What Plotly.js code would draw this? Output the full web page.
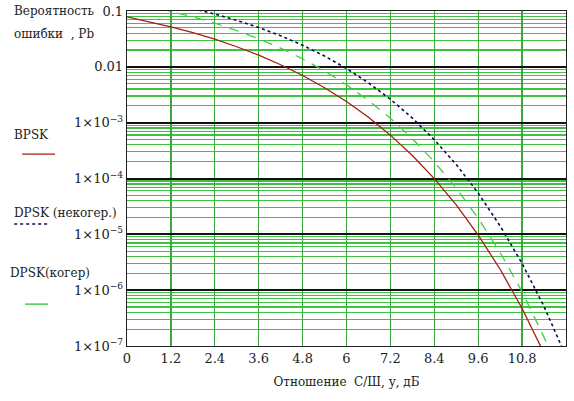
<!DOCTYPE html>
<html>
<head>
<meta charset="utf-8">
<script src="https://cdn.plot.ly/plotly-3.0.1.min.js"></script>
<style>html,body{margin:0;padding:0;background:#fff;}#chart{width:574px;height:401px;}</style>
</head>
<body>
<div id="chart"></div>
<script>
// SNR, dB
const snrBPSK = [0, 0.6, 1.2, 1.8, 2.4, 3.0, 3.6, 4.2, 4.8, 5.4, 6.0, 6.6, 7.2, 7.8, 8.4, 9.0, 9.6, 10.2, 10.8, 11.4];
const pbBPSK  = [0.0786, 0.0649, 0.0522, 0.0409, 0.0312, 0.0229, 0.0162, 0.0109, 0.0070, 0.00423, 0.00239, 0.00125, 5.98e-4, 2.58e-4, 9.96e-5, 3.36e-5, 9.7e-6, 2.37e-6, 4.7e-7, 7.4e-8];

const snrDPSKnc = [1.8, 2.4, 3.0, 3.6, 4.2, 4.8, 5.4, 6.0, 6.6, 7.2, 7.8, 8.4, 9.0, 9.6, 10.2, 10.8, 11.4, 12.0];
const pbDPSKnc  = [0.110, 0.088, 0.068, 0.0506, 0.0360, 0.0244, 0.0156, 0.00933, 0.00517, 0.00263, 0.00121, 4.95e-4, 1.78e-4, 5.47e-5, 1.41e-5, 3.0e-6, 5.1e-7, 6.5e-8];

const snrDPSKc = [0.9, 1.2, 1.8, 2.4, 3.0, 3.6, 4.2, 4.8, 5.4, 6.0, 6.6, 7.2, 7.8, 8.4, 9.0, 9.6, 10.2, 10.8, 11.4, 11.6];
const pbDPSKc  = [0.110, 0.0990, 0.0785, 0.0604, 0.0447, 0.0318, 0.0216, 0.0139, 0.00843, 0.00477, 0.00250, 1.2e-3, 5.16e-4, 1.99e-4, 6.72e-5, 1.94e-5, 4.74e-6, 9.4e-7, 1.49e-7, 7.6e-8];

const xTicks = [0, 1.2, 2.4, 3.6, 4.8, 6, 7.2, 8.4, 9.6, 10.8, 12];
const xTickText = ["0", "1.2", "2.4", "3.6", "4.8", "6", "7.2", "8.4", "9.6", "10.8", "12"];
const yTicks = [1e-7, 1e-6, 1e-5, 1e-4, 1e-3, 0.01, 0.1];
const yTickText = ["1×10<sup>−7</sup>", "1×10<sup>−6</sup>", "1×10<sup>−5</sup>", "1×10<sup>−4</sup>", "1×10<sup>−3</sup>", "0.01", "0.1"];

const FONT = "DejaVu Serif";
const GRID = "#3fc23f";
const VGRID = "#3aa83a";

const traces = [
  {x: snrBPSK, y: pbBPSK, mode: "lines", line: {color: "#a51c10", width: 1.3}},
  {x: snrDPSKnc, y: pbDPSKnc, mode: "lines", line: {color: "#0a0a50", width: 1.6, dash: "dot"}},
  {x: snrDPSKc, y: pbDPSKc, mode: "lines", line: {color: "#44cc44", width: 1.3, dash: "10px,8px"}}
];

const layout = {
  width: 574, height: 401,
  margin: {l: 127, r: 8, t: 11, b: 55},
  paper_bgcolor: "#fff", plot_bgcolor: "#fff",
  showlegend: false,
  font: {family: FONT, size: 12, color: "#222"},
  xaxis: {
    range: [0, 12], tickvals: xTicks, ticktext: xTickText,
    showgrid: true, gridcolor: VGRID, gridwidth: 1.2,
    showline: true, linecolor: "#222", linewidth: 1.3, mirror: true,
    ticks: "", zeroline: false, tickfont: {family: FONT, size: 13, color: "#222"},
    title: {text: "Отношение  С/Ш, у, дБ", font: {family: FONT, size: 12, color: "#222"}, standoff: 12}
  },
  yaxis: {
    type: "log", range: [-7, -1], tickvals: yTicks, ticktext: yTickText,
    showgrid: true, gridcolor: "#111", gridwidth: 2,
    minor: {dtick: "D1", showgrid: true, gridcolor: GRID, gridwidth: 1.2, ticks: ""},
    showline: true, linecolor: "#222", linewidth: 1.3, mirror: true,
    ticks: "", tickfont: {family: FONT, size: 13, color: "#222"}
  },
  annotations: [
    {xref: "paper", yref: "paper", x: -0.262, y: 1.0, xanchor: "left", yanchor: "middle", showarrow: false, align: "left",
     text: "Вероятность", font: {family: FONT, size: 12, color: "#222"}},
    {xref: "paper", yref: "paper", x: -0.262, y: 0.93, xanchor: "left", yanchor: "middle", showarrow: false, align: "left",
     text: "ошибки  , Pb", font: {family: FONT, size: 12, color: "#222"}},
    {xref: "paper", yref: "paper", x: -0.262, y: 0.63, xanchor: "left", yanchor: "middle", showarrow: false,
     text: "BPSK", font: {family: FONT, size: 12, color: "#222"}},
    {xref: "paper", yref: "paper", x: -0.262, y: 0.397, xanchor: "left", yanchor: "middle", showarrow: false,
     text: "DPSK (некогер.)", font: {family: FONT, size: 12, color: "#222"}},
    {xref: "paper", yref: "paper", x: -0.271, y: 0.218, xanchor: "left", yanchor: "middle", showarrow: false,
     text: "DPSK(когер)", font: {family: FONT, size: 12, color: "#222"}}
  ],
  shapes: [
    {type: "line", xref: "paper", yref: "paper", x0: -0.239, x1: -0.164, y0: 0.573, y1: 0.573, line: {color: "#a51c10", width: 1.3}},
    {type: "line", xref: "paper", yref: "paper", x0: -0.257, x1: -0.175, y0: 0.364, y1: 0.364, line: {color: "#0a0a50", width: 1.5, dash: "dot"}},
    {type: "line", xref: "paper", yref: "paper", x0: -0.232, x1: -0.180, y0: 0.125, y1: 0.125, line: {color: "#44cc44", width: 1.5}}
  ]
};

Plotly.newPlot("chart", traces, layout, {staticPlot: true, displayModeBar: false});
</script>
</body>
</html>
